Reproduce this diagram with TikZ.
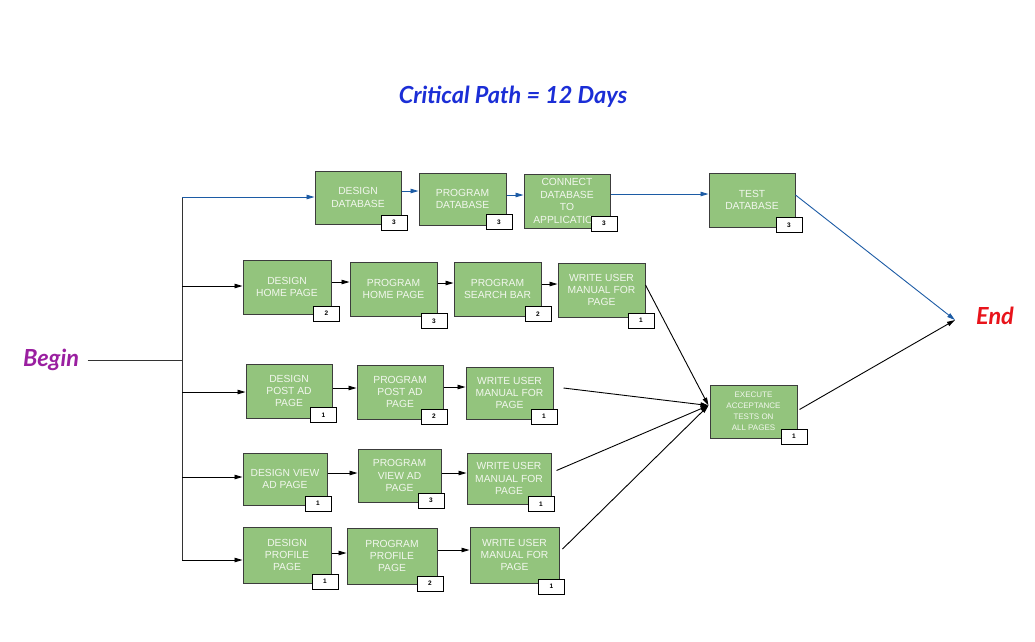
\documentclass[tikz,border=0pt]{standalone}
\usepackage{fontspec}
\setmainfont{Liberation Sans}
\newfontfamily\hdfont{Lato}
\usetikzlibrary{arrows.meta}
\definecolor{boxgreen}{HTML}{93C47D}
\definecolor{boxline}{HTML}{3C3C3C}
\definecolor{boxtext}{HTML}{F2F7EE}
\definecolor{critblue}{HTML}{1C5BA5}
\definecolor{titleblue}{HTML}{1B2ED6}
\definecolor{beginpurple}{HTML}{9A1FA0}
\definecolor{endred}{HTML}{E8141B}
\tikzset{
  task/.style={draw=boxline, fill=boxgreen, line width=1pt, text=boxtext, align=center,
    inner sep=0pt, font=\fontsize{10.3}{12.4}\selectfont},
  badge/.style={draw=black, fill=white, line width=0.8pt, minimum width=26pt, minimum height=15pt,
    inner sep=0pt, font=\fontsize{6.5}{7}\selectfont\bfseries},
  arr/.style={line width=0.9pt, draw=black, -{Triangle[length=8pt,width=4.5pt]}},
  carr/.style={line width=0.9pt, draw=critblue, -{Triangle[length=8pt,width=4.5pt]}},
  bigtxt/.style={font=\hdfont\fontsize{23.5}{27}\selectfont\bfseries\itshape}
}
\begin{document}
\begin{tikzpicture}[x=1pt,y=-1pt]
\useasboundingbox (0,0) rectangle (1035,641);

% title and labels
\node[bigtxt, text=titleblue] (title) at (513,97) {Critical Path = 12 Days};
\node[bigtxt, text=beginpurple] (begin) at (51,360) {Begin};
\node[bigtxt, text=endred] (end) at (995,316) {End};

% row 1
\node[task, minimum width=86pt, minimum height=53pt] (dd) at (358,197.5) {DESIGN\\DATABASE};
\node[task, minimum width=87pt, minimum height=52pt] (pd) at (462.5,199) {PROGRAM\\DATABASE};
\node[task, minimum width=86pt, minimum height=54pt] (cn) at (567,201) {CONNECT\\DATABASE\\TO\\APPLICATION};
\node[task, minimum width=86pt, minimum height=54pt] (td) at (752,200) {TEST\\DATABASE};
% row 2
\node[task, minimum width=88pt, minimum height=54pt] (dh) at (287,287) {DESIGN\\HOME PAGE};
\node[task, minimum width=87pt, minimum height=54pt] (ph) at (393.5,289) {PROGRAM\\HOME PAGE};
\node[task, minimum width=87pt, minimum height=54pt] (ps) at (497.5,289) {PROGRAM\\SEARCH BAR};
\node[task, minimum width=87pt, minimum height=54pt] (w2) at (601.5,290) {WRITE USER\\MANUAL FOR\\PAGE};
% row 3
\node[task, minimum width=86pt, minimum height=54pt] (dp) at (289,391) {DESIGN\\POST AD\\PAGE};
\node[task, minimum width=86pt, minimum height=54pt] (pp) at (400,392) {PROGRAM\\POST AD\\PAGE};
\node[task, minimum width=87pt, minimum height=52pt] (w3) at (509.5,393) {WRITE USER\\MANUAL FOR\\PAGE};
% row 4
\node[task, minimum width=84pt, minimum height=52pt] (dv) at (285,479) {DESIGN VIEW\\AD PAGE};
\node[task, minimum width=83pt, minimum height=53pt] (pv) at (399.5,475.5) {PROGRAM\\VIEW AD\\PAGE};
\node[task, minimum width=84pt, minimum height=51pt] (w4) at (509,478.5) {WRITE USER\\MANUAL FOR\\PAGE};
% row 5
\node[task, minimum width=88pt, minimum height=56pt] (df) at (287,555) {DESIGN\\PROFILE\\PAGE};
\node[task, minimum width=90pt, minimum height=56pt] (pf) at (392,556) {PROGRAM\\PROFILE\\PAGE};
\node[task, minimum width=89pt, minimum height=56pt] (w5) at (514.5,555) {WRITE USER\\MANUAL FOR\\PAGE};
% execute
\node[task, minimum width=87pt, minimum height=53pt, font=\fontsize{8}{11}\selectfont] (ex) at (753.5,411.5) {EXECUTE\\ACCEPTANCE\\TESTS ON\\ALL PAGES};

% badges
\node[badge] (dd-b) at (394,222.5) {3};
\node[badge] (pd-b) at (499,222) {3};
\node[badge] (cn-b) at (604,223.5) {3};
\node[badge] (td-b) at (789,225) {3};
\node[badge] (dh-b) at (326.5,313.5) {2};
\node[badge] (ph-b) at (434,321) {3};
\node[badge] (ps-b) at (538,314) {2};
\node[badge] (w2-b) at (641,320.5) {1};
\node[badge] (dp-b) at (323.5,415) {1};
\node[badge] (pp-b) at (434,416.5) {2};
\node[badge] (w3-b) at (544,416.5) {1};
\node[badge] (dv-b) at (318,503.5) {1};
\node[badge] (pv-b) at (431,500.5) {3};
\node[badge] (w4-b) at (541,504) {1};
\node[badge] (df-b) at (325,581.5) {1};
\node[badge] (pf-b) at (430,583.5) {2};
\node[badge] (w5-b) at (551.5,586.5) {1};
\node[badge] (ex-b) at (794,436.5) {1};

% branch structure
\coordinate (b1) at (182,197);
\coordinate (b2) at (182,286);
\coordinate (bj) at (182,360);
\coordinate (b3) at (182,392);
\coordinate (b4) at (182,477);
\coordinate (b5) at (182,560);
\coordinate (endin) at (955,320);

\draw[line width=0.9pt, black!80] (begin.east) ++(5pt,0) -- (bj);
\draw[line width=0.9pt, black!80] (b1) -- (b5);
\draw[carr] (b1) -- (b1 -| dd.west);
\draw[arr] (b2) -- (b2 -| dh.west);
\draw[arr] (b3) -- (b3 -| dp.west);
\draw[arr] (b4) -- (b4 -| dv.west);
\draw[arr] (b5) -- (b5 -| df.west);

% row 1 (critical, blue)
\draw[carr] (dd.east |- 0,191) -- (pd.west |- 0,191);
\draw[carr] (pd.east |- 0,195) -- (cn.west |- 0,195);
\draw[carr] (cn.east |- 0,194) -- (td.west |- 0,194);
\draw[carr] ([yshift=5pt]td.east) -- (endin);

% row 2
\draw[arr] (dh.east |- 0,282) -- (ph.west |- 0,282);
\draw[arr] (ph.east |- 0,283) -- (ps.west |- 0,283);
\draw[arr] (ps.east |- 0,284) -- (w2.west |- 0,284);
% row 3
\draw[arr] (dp.east |- 0,388) -- (pp.west |- 0,388);
\draw[arr] (pp.east |- 0,387) -- (w3.west |- 0,387);
% row 4
\draw[arr] (dv.east |- 0,473) -- (pv.west |- 0,473);
\draw[arr] (pv.east |- 0,473) -- (w4.west |- 0,473);
% row 5
\draw[arr] (df.east |- 0,553) -- (pf.west |- 0,553);
\draw[arr] (pf.east |- 0,550) -- (w5.west |- 0,550);

% into execute
\draw[arr] ([yshift=5pt]w2.east) -- ([xshift=-1pt,yshift=6pt]ex.west);
\draw[arr] ([xshift=10pt,yshift=5pt]w3.east) -- ([xshift=-1pt,yshift=6pt]ex.west);
\draw[arr] ([xshift=5pt,yshift=8pt]w4.east) -- ([xshift=-1pt,yshift=6pt]ex.west);
\draw[arr] ([xshift=3pt,yshift=6pt]w5.east) -- ([xshift=-1pt,yshift=6pt]ex.west);
% execute to end
\draw[arr] ([xshift=2pt,yshift=2pt]ex.east) -- (endin);
\end{tikzpicture}
\end{document}
